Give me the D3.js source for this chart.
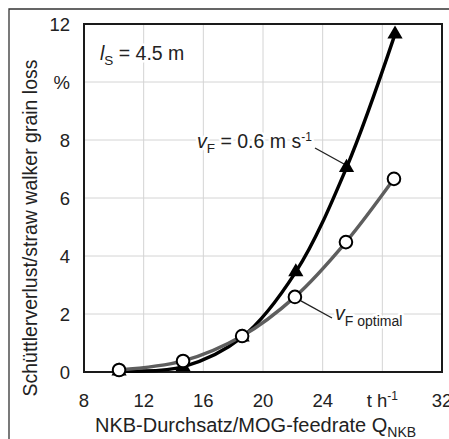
<!DOCTYPE html>
<html>
<head>
<meta charset="utf-8">
<script src="https://cdn.jsdelivr.net/npm/d3@7"></script>
<style>
  html, body { margin: 0; padding: 0; background: #fff; }
  svg { display: block; font-family: "Liberation Sans", Arial, sans-serif; }
</style>
</head>
<body>
<svg id="chart" width="449" height="439"></svg>
<script>
// Straw walker grain loss vs. MOG feedrate, screen length 4.5 m
const feedrate = [10.35, 14.64, 18.6, 22.2, 25.6, 28.85];
const lossFixedSpeed = [0.03, 0.18, 1.2, 3.45, 7.05, 11.65];   // v_F = 0.6 m/s
const feedrateOpt = [10.35, 14.64, 18.6, 22.14, 25.56, 28.78];
const lossOptimal = [0.07, 0.38, 1.24, 2.59, 4.48, 6.66];       // v_F optimal

const xTicks = [8, 12, 16, 20, 24, 28, 32];
const xTickLabels = ["8", "12", "16", "20", "24", "t h", "32"];
const yTicks = [0, 2, 4, 6, 8, 10, 12];
const yTickLabels = ["0", "2", "4", "6", "8", "%", "12"];

const svg = d3.select("#chart");
const margin = { left: 84, top: 24, right: 7, bottom: 67 };
const W = 449, H = 439;

const x = d3.scaleLinear().domain([8, 32]).range([margin.left, W - margin.right]);
const y = d3.scaleLinear().domain([0, 12]).range([H - margin.bottom, margin.top]);

const ink = "#222";
const fs = 18.5;      // tick labels
const fsSub = 13.5;   // subscripts
const fsSup = 12;     // superscripts

// outer frame
svg.append("path")
  .attr("d", `M9,${H + 5} L9,9 L${W + 5},9`)
  .attr("fill", "none").attr("stroke", "#333").attr("stroke-width", 1.3);

// grid
const grid = svg.append("g");
grid.selectAll(".gx").data(xTicks.slice(1, -1)).join("line")
  .attr("x1", d => x(d)).attr("x2", d => x(d))
  .attr("y1", y(0)).attr("y2", y(12))
  .attr("stroke", "#d4d4d4").attr("stroke-width", 1);
grid.selectAll(".gy").data(yTicks.slice(1, -1)).join("line")
  .attr("y1", d => y(d)).attr("y2", d => y(d))
  .attr("x1", x(8)).attr("x2", x(32))
  .attr("stroke", "#d4d4d4").attr("stroke-width", 1);

// tick labels
const xl = svg.append("g").attr("font-size", fs).attr("fill", ink);
xTicks.forEach((t, i) => {
  const tx = xl.append("text").attr("x", x(t)).attr("y", 407).attr("text-anchor", "middle");
  tx.append("tspan").text(xTickLabels[i]);
  if (t === 28) {
    tx.append("tspan").attr("font-size", fsSup).attr("dy", -7).text("-1");
  }
});
const yl = svg.append("g").attr("font-size", fs).attr("fill", ink);
yTicks.forEach((t, i) => {
  yl.append("text").attr("x", 70).attr("y", y(t) + 6.5).attr("text-anchor", "end").text(yTickLabels[i]);
});

// axis titles
svg.append("text")
  .attr("transform", `translate(37,228) rotate(-90)`)
  .attr("text-anchor", "middle").attr("font-size", 19.5).attr("fill", ink)
  .text("Schüttlerverlust/straw walker grain loss");

const xt = svg.append("text").attr("x", 95).attr("y", 432).attr("font-size", 20).attr("fill", ink);
xt.append("tspan").text("NKB-Durchsatz/MOG-feedrate Q");
xt.append("tspan").attr("font-size", 14).attr("dy", 5).text("NKB");

// annotations (white halo breaks the grid behind text)
const halo = sel => sel.attr("stroke", "#fff").attr("stroke-width", 5).attr("paint-order", "stroke").attr("stroke-linejoin", "round");

const ls = svg.append("text").attr("x", 100).attr("y", 60).attr("font-size", 19.5).attr("fill", ink).call(halo);
ls.append("tspan").attr("font-style", "italic").text("l");
ls.append("tspan").attr("font-size", fsSub).attr("dy", 5).text("S");
ls.append("tspan").attr("dy", -5).text(" = 4.5 m");

svg.append("line").attr("x1", 315).attr("y1", 148).attr("x2", 344).attr("y2", 164)
  .attr("stroke", ink).attr("stroke-width", 1.4);
const vf = svg.append("text").attr("x", 197).attr("y", 148).attr("font-size", 19.5).attr("fill", ink).call(halo);
vf.append("tspan").attr("font-style", "italic").text("v");
vf.append("tspan").attr("font-size", fsSub).attr("dy", 5).text("F");
vf.append("tspan").attr("dy", -5).text(" = 0.6 m s");
vf.append("tspan").attr("font-size", fsSup).attr("dy", -7).text("-1");

svg.append("line").attr("x1", x(22.14) + 6).attr("y1", y(2.59) + 4).attr("x2", 332).attr("y2", 318)
  .attr("stroke", ink).attr("stroke-width", 1.4);
const vo = svg.append("text").attr("x", 335).attr("y", 320).attr("font-size", 19.5).attr("fill", ink).call(halo);
vo.append("tspan").attr("font-style", "italic").text("v");
vo.append("tspan").attr("font-size", 14).attr("dy", 6).text("F optimal");

// plot frame
svg.append("rect")
  .attr("x", x(8)).attr("y", y(12)).attr("width", x(32) - x(8)).attr("height", y(0) - y(12))
  .attr("fill", "none").attr("stroke", "#1a1a1a").attr("stroke-width", 2);

// series
const line = d3.line().curve(d3.curveCatmullRom.alpha(0.5));

const ptsFixed = feedrate.map((f, i) => [x(f), y(lossFixedSpeed[i])]);
const ptsOpt = feedrateOpt.map((f, i) => [x(f), y(lossOptimal[i])]);

svg.append("path").attr("d", line(ptsFixed))
  .attr("fill", "none").attr("stroke", "#000").attr("stroke-width", 3.4);
svg.selectAll(".tri").data(ptsFixed).join("path")
  .attr("transform", d => `translate(${d[0]},${d[1]})`)
  .attr("d", d3.symbol(d3.symbolTriangle, 100))
  .attr("fill", "#000");

svg.append("path").attr("d", line(ptsOpt))
  .attr("fill", "none").attr("stroke", "#5e5e5e").attr("stroke-width", 3.4);
svg.selectAll(".circ").data(ptsOpt).join("circle")
  .attr("cx", d => d[0]).attr("cy", d => d[1]).attr("r", 6.3)
  .attr("fill", "#fff").attr("stroke", "#000").attr("stroke-width", 2);
</script>
</body>
</html>
